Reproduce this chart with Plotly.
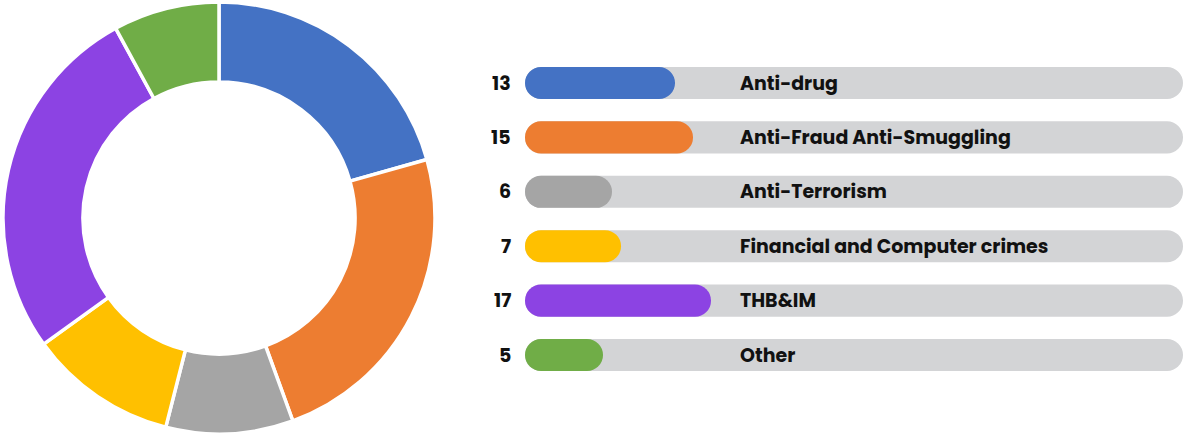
import plotly.graph_objects as go

categories = ["Anti-drug", "Anti-Fraud Anti-Smuggling", "Anti-Terrorism",
              "Financial and Computer crimes", "THB&IM", "Other"]
values = [13, 15, 6, 7, 17, 5]
colors = ["#4472C4", "#ED7D31", "#A5A5A5", "#FFC000", "#8C43E3", "#70AD47"]

W, H = 1184, 436
CAP = 3.667          # rounded-cap offset (axis units)
TRACK_MAX = 69.44    # end of grey track (axis units)
FONT = "Poppins, Inter, Open Sans, sans-serif"

fig = go.Figure()

fig.add_trace(go.Pie(
    labels=categories, values=values, sort=False, direction="clockwise",
    rotation=0, hole=0.63, textinfo="none", hoverinfo="label+value",
    marker=dict(colors=colors, line=dict(color="white", width=3.5)),
    domain=dict(x=[3 / W, 435 / W], y=[1 / H, 435 / H]),
    showlegend=False,
))

# grey tracks
fig.add_trace(go.Bar(
    y=categories, x=[TRACK_MAX + CAP] * len(categories), base=-CAP,
    orientation="h", marker=dict(color="#D3D4D6", line=dict(width=0)),
    hoverinfo="skip", showlegend=False, xaxis="x", yaxis="y",
))
# value bars
fig.add_trace(go.Bar(
    y=categories, x=[v + CAP for v in values], base=-CAP,
    orientation="h", marker=dict(color=colors, line=dict(width=0)),
    customdata=values, hovertemplate="%{y}: %{customdata}<extra></extra>",
    showlegend=False, xaxis="x", yaxis="y",
))

annotations = []
for c, v in zip(categories, values):
    annotations.append(dict(
        x=513 / W, xref="paper", y=c, yref="y", text=f"<b>{v}</b>",
        showarrow=False, xanchor="right", yanchor="middle",
        font=dict(family=FONT, size=19, color="#111111"),
    ))
    annotations.append(dict(
        x=738 / W, xref="paper", y=c, yref="y", text=f"<b>{c}</b>",
        showarrow=False, xanchor="left", yanchor="middle",
        font=dict(family=FONT, size=19, color="#111111"),
    ))

fig.update_layout(
    width=W, height=H,
    margin=dict(l=0, r=0, t=0, b=0),
    paper_bgcolor="white", plot_bgcolor="white",
    barmode="overlay", bargap=0.41, barcornerradius=16,
    xaxis=dict(domain=[525 / W, 1183 / W], range=[-CAP, TRACK_MAX],
               visible=False, fixedrange=True),
    yaxis=dict(domain=[(H - 382.2) / H, (H - 55.8) / H],
               autorange="reversed", visible=False, fixedrange=True),
    annotations=annotations,
)

fig.write_html("out.html", config={"displayModeBar": False},
               post_script="document.body.style.margin='0';document.body.style.overflow='hidden';")
